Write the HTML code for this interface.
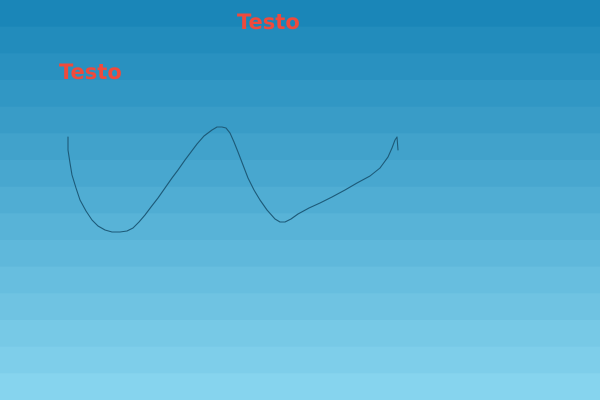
<!DOCTYPE html>
<html><head><meta charset="utf-8"><style>
html,body{margin:0;padding:0;}
body{width:600px;height:400px;overflow:hidden;position:relative;}
svg{display:block;}
</style></head><body>
<svg width="600" height="400" id="svg">
<g id="bands"></g>
<path id="curve" fill="none" stroke="#1d5a78" stroke-width="1.1" stroke-linejoin="round" stroke-linecap="round"></path>
<text x="59" y="79" font-family="DejaVu Sans, sans-serif" font-weight="bold" font-size="21" fill="#ef4a3c">Testo</text>
<text x="237" y="29" font-family="DejaVu Sans, sans-serif" font-weight="bold" font-size="21" fill="#ef4a3c">Testo</text>
</svg>
<script>
const curveX = [68,68,70,72,76,80,86,92,98,105,112,120,127,133,139,145,151,158,165,172,178,185,191,197,204,212,217,222,226,230,234,238,243,248,254,260,267,275,280,285,291,298,309,320,332,345,357,370,380,388,392,395,397,398];
const curveY = [137,150,163,175,188,200,211,220,226,230,232,232,231,228,222,215,207,198,188,178,170,160,152,144,136,130,127,127,128,133,142,152,165,178,190,200,210,219,222,222,219,214,208,203,197,190,183,176,168,157,148,140,137,150];
const bandCount = 15;
const topColor = [26,134,184], botColor = [134,212,238];
const bands = document.getElementById('bands');
for (let i = 0; i < bandCount; i++) {
  const t = i / (bandCount - 1);
  const c = topColor.map((v, k) => Math.round(v + (botColor[k] - v) * t));
  const r = document.createElementNS('http://www.w3.org/2000/svg', 'rect');
  r.setAttribute('x', 0);
  r.setAttribute('y', (i * 400 / bandCount).toFixed(2));
  r.setAttribute('width', 600);
  r.setAttribute('height', (400 / bandCount + 0.5).toFixed(2));
  r.setAttribute('fill', `rgb(${c[0]},${c[1]},${c[2]})`);
  
  
  bands.appendChild(r);
}
let d = '';
for (let i = 0; i < curveX.length; i++) {
  d += (i ? ' L' : 'M') + curveX[i] + ' ' + curveY[i];
}
document.getElementById('curve').setAttribute('d', d);
</script>
</body></html>
